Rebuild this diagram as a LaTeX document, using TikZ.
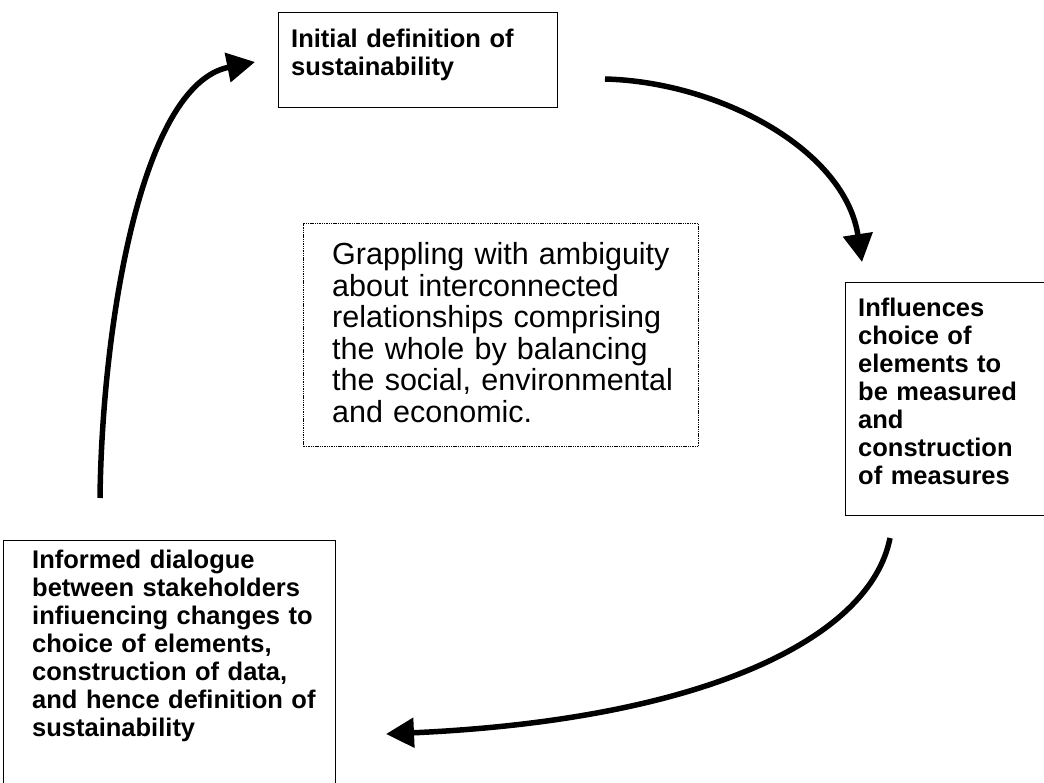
\documentclass[tikz,border=0pt]{standalone}
\usepackage{fontspec}
\setmainfont{Liberation Sans}
\usetikzlibrary{arrows.meta}
\begin{document}
\begin{tikzpicture}[x=1pt,y=-1pt,
  frame/.style={draw, line width=1.2pt, inner sep=0pt, anchor=north west},
  dotframe/.style={draw, line width=1.3pt, dash pattern=on 1.4pt off 0.9pt, inner sep=0pt, anchor=north west},
  boldtext/.style={anchor=base west, inner sep=0pt, text width=320pt, align=left,
    font=\fontsize{25.5}{28}\selectfont\bfseries},
  plaintext/.style={anchor=base west, inner sep=0pt, text width=380pt, align=left,
    font=\fontsize{30.5}{31.5}\selectfont},
  flow/.style={line width=5.5pt, -{Triangle[length=28pt,width=29pt]}}
]
\useasboundingbox (0,0) rectangle (1044,783);
\clip (0,0) rectangle (1044,783);

% frames
\node[frame, minimum width=279pt, minimum height=95pt] (topbox) at (278,12) {};
\node[dotframe, minimum width=395pt, minimum height=223pt] (centerbox) at (303,223) {};
\node[frame, minimum width=215pt, minimum height=233pt] (rightbox) at (845,282) {};
\node[frame, minimum width=332pt, minimum height=260pt] (leftbox) at (3,540) {};

% texts
\node[boldtext] (toptext) at (291,48) {Initial definition of\\sustainability};
\node[plaintext] (centertext) at (332,265) {Grappling with ambiguity\\about interconnected\\relationships comprising\\the whole by balancing\\the social, environmental\\and economic.};
\node[boldtext] (righttext) at (858,317) {Influences\\choice of\\elements to\\be measured\\and\\construction\\of measures};
\node[boldtext] (lefttext) at (32,568) {Informed dialogue\\between stakeholders\\infiuencing changes to\\choice of elements,\\construction of data,\\and hence definition of\\sustainability};

% arrow end points
\coordinate (a1s) at (605,79);
\coordinate (a1e) at (862,262);
\coordinate (a2s) at (890,538);
\coordinate (a2e) at (386,734);
\coordinate (a3s) at (100,498);
\coordinate (a3e) at (255,62);

\draw[flow] (a1s) .. controls (720,82) and (845,150) .. (a1e);
\draw[flow] (a2s) .. controls (870,640) and (700,720) .. (a2e);
\draw[flow] (a3s) .. controls (102,330) and (140,85) .. (a3e);
\end{tikzpicture}
\end{document}
